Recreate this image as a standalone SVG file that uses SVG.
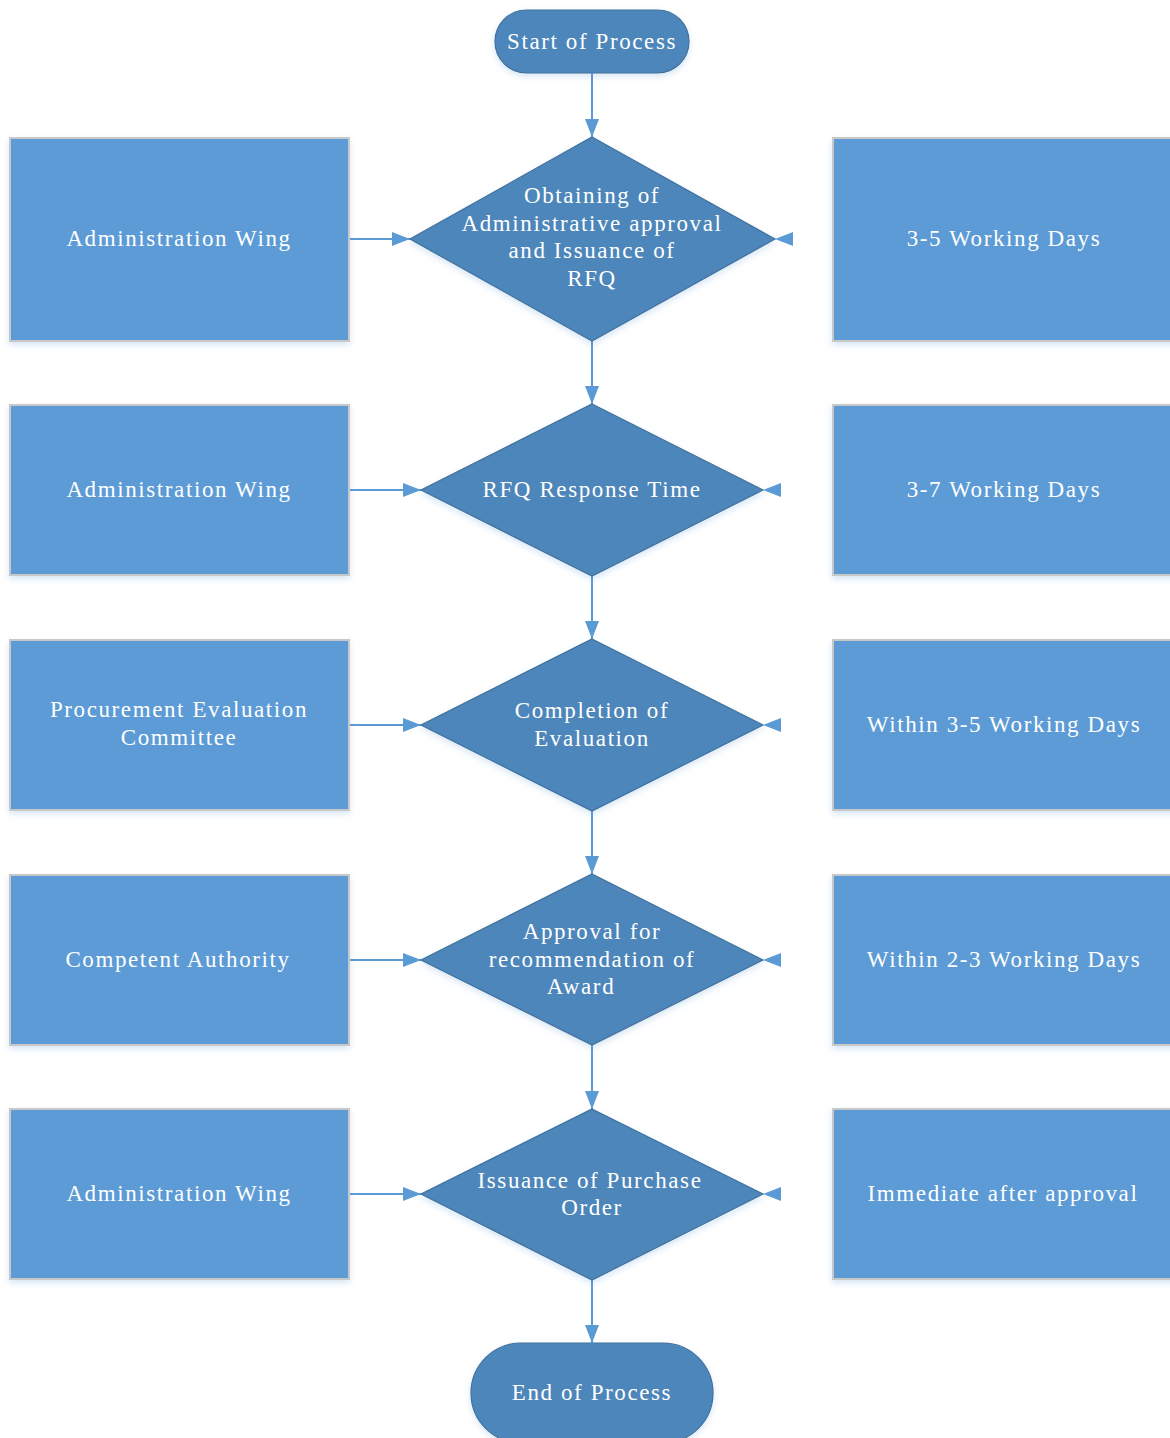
<svg xmlns="http://www.w3.org/2000/svg" width="1170" height="1438" viewBox="0 0 1170 1438" font-family="Liberation Serif, Times New Roman, serif">
<style>
.box{fill:#5B9BD5;stroke:#C8C8C8;stroke-width:2;filter:url(#sh)}
.dia{fill:#4E86BA;stroke:#41719C;stroke-width:1.2;filter:url(#sh)}
.term{fill:#4E86BA;stroke:#41719C;stroke-width:1.2;filter:url(#sh)}
.t{font-size:23px;letter-spacing:1.6px;fill:#FFFFFF;text-anchor:middle}
.ln{stroke:#5B9BD5;stroke-width:2;fill:none}
.ah{fill:#5B9BD5}
</style>
<defs>
<filter id="sh" x="-10%" y="-10%" width="120%" height="130%">
<feDropShadow dx="0" dy="3" stdDeviation="3" flood-color="#5B9BD5" flood-opacity="0.25"/>
</filter>
<marker id="arr" viewBox="0 0 18 14" refX="18" refY="7" markerWidth="18" markerHeight="14" markerUnits="userSpaceOnUse" orient="auto">
<path d="M0,0 L18,7 L0,14 Z" fill="#5B9BD5"/>
</marker>
</defs>
<rect width="1170" height="1438" fill="#FFFFFF"/>

<g id="connectors">
<line class="ln" x1="592" y1="73" x2="592" y2="137" marker-end="url(#arr)"/>
<line class="ln" x1="592" y1="341" x2="592" y2="404" marker-end="url(#arr)"/>
<line class="ln" x1="592" y1="576" x2="592" y2="639" marker-end="url(#arr)"/>
<line class="ln" x1="592" y1="811" x2="592" y2="874" marker-end="url(#arr)"/>
<line class="ln" x1="592" y1="1045" x2="592" y2="1109" marker-end="url(#arr)"/>
<line class="ln" x1="592" y1="1280" x2="592" y2="1343" marker-end="url(#arr)"/>
<line class="ln" x1="349" y1="239" x2="410" y2="239" marker-end="url(#arr)"/>
<line class="ln" x1="349" y1="490" x2="421" y2="490" marker-end="url(#arr)"/>
<line class="ln" x1="349" y1="725" x2="421" y2="725" marker-end="url(#arr)"/>
<line class="ln" x1="349" y1="960" x2="421" y2="960" marker-end="url(#arr)"/>
<line class="ln" x1="349" y1="1194" x2="421" y2="1194" marker-end="url(#arr)"/>
<path class="ah" d="M775,239 L793,232 L793,246 Z"/>
<path class="ah" d="M763,490 L781,483 L781,497 Z"/>
<path class="ah" d="M763,725 L781,718 L781,732 Z"/>
<path class="ah" d="M763,960 L781,953 L781,967 Z"/>
<path class="ah" d="M763,1194 L781,1187 L781,1201 Z"/>
</g>

<g id="start">
<rect class="term" x="495" y="10" width="194" height="63" rx="31.5"/>
<text class="t" x="592" y="49" font-family="Liberation Serif">Start of Process</text>
</g>

<g id="d1">
<path class="dia" d="M592,137 L775,239 L592,341 L410,239 Z"/>
<text class="t" x="592" y="203" font-family="Liberation Serif">Obtaining of</text>
<text class="t" x="592" y="231" font-family="Liberation Serif">Administrative approval</text>
<text class="t" x="592" y="258" font-family="Liberation Serif">and Issuance of</text>
<text class="t" x="592" y="286" font-family="Liberation Serif">RFQ</text>
</g>
<g id="l1">
<rect class="box" x="10" y="138" width="339" height="203"/>
<text class="t" x="179" y="246" font-family="Liberation Serif">Administration Wing</text>
</g>
<g id="r1">
<rect class="box" x="833" y="138" width="345" height="203"/>
<text class="t" x="1004" y="246" font-family="Liberation Serif">3-5 Working Days</text>
</g>

<g id="d2">
<path class="dia" d="M592,404 L763,490 L592,576 L421,490 Z"/>
<text class="t" x="592" y="497" font-family="Liberation Serif">RFQ Response Time</text>
</g>
<g id="l2">
<rect class="box" x="10" y="405" width="339" height="170"/>
<text class="t" x="179" y="497" font-family="Liberation Serif">Administration Wing</text>
</g>
<g id="r2">
<rect class="box" x="833" y="405" width="345" height="170"/>
<text class="t" x="1004" y="497" font-family="Liberation Serif">3-7 Working Days</text>
</g>

<g id="d3">
<path class="dia" d="M592,639 L763,725 L592,811 L421,725 Z"/>
<text class="t" x="592" y="718" font-family="Liberation Serif">Completion of</text>
<text class="t" x="592" y="746" font-family="Liberation Serif">Evaluation</text>
</g>
<g id="l3">
<rect class="box" x="10" y="640" width="339" height="170"/>
<text class="t" x="179" y="717" font-family="Liberation Serif">Procurement Evaluation</text>
<text class="t" x="179" y="745" font-family="Liberation Serif">Committee</text>
</g>
<g id="r3">
<rect class="box" x="833" y="640" width="345" height="170"/>
<text class="t" x="1004" y="732" font-family="Liberation Serif">Within 3-5 Working Days</text>
</g>

<g id="d4">
<path class="dia" d="M592,874 L763,960 L592,1045 L421,960 Z"/>
<text class="t" x="592" y="939" font-family="Liberation Serif">Approval for</text>
<text class="t" x="592" y="967" font-family="Liberation Serif">recommendation of</text>
<text class="t" x="581" y="994" font-family="Liberation Serif">Award</text>
</g>
<g id="l4">
<rect class="box" x="10" y="875" width="339" height="170"/>
<text class="t" x="178" y="967" font-family="Liberation Serif">Competent Authority</text>
</g>
<g id="r4">
<rect class="box" x="833" y="875" width="345" height="170"/>
<text class="t" x="1004" y="967" font-family="Liberation Serif">Within 2-3 Working Days</text>
</g>

<g id="d5">
<path class="dia" d="M592,1109 L763,1194 L592,1280 L421,1194 Z"/>
<text class="t" x="590" y="1188" font-family="Liberation Serif">Issuance of Purchase</text>
<text class="t" x="592" y="1215" font-family="Liberation Serif">Order</text>
</g>
<g id="l5">
<rect class="box" x="10" y="1109" width="339" height="170"/>
<text class="t" x="179" y="1201" font-family="Liberation Serif">Administration Wing</text>
</g>
<g id="r5">
<rect class="box" x="833" y="1109" width="345" height="170"/>
<text class="t" x="1003" y="1201" font-family="Liberation Serif">Immediate after approval</text>
</g>

<g id="end">
<rect class="term" x="471" y="1343" width="242" height="100" rx="50"/>
<text class="t" x="592" y="1400" font-family="Liberation Serif">End of Process</text>
</g>
</svg>
